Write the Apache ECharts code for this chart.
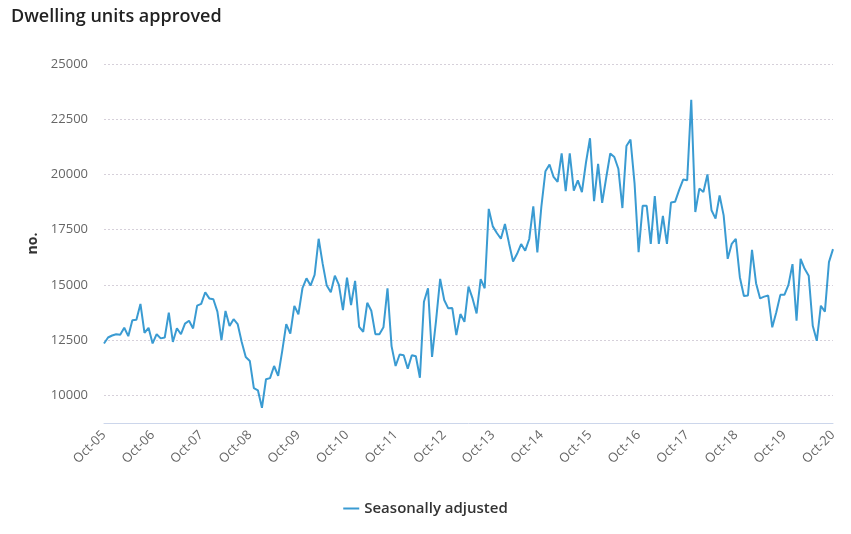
<!DOCTYPE html>
<html>
<head>
<meta charset="utf-8">
<script src="https://cdn.jsdelivr.net/npm/echarts@6/dist/echarts.min.js"></script>
<style>
html,body{margin:0;padding:0;background:#fff;}
#chart{width:851px;height:534px;}
</style>
</head>
<body>
<div id="chart"></div>
<script>
const titleText = 'Dwelling units approved';
const seriesName = 'Seasonally adjusted';
const yAxisName = 'no.';
const yTickValues = [10000, 12500, 15000, 17500, 20000, 22500, 25000];
const monthNames = ['Jan','Feb','Mar','Apr','May','Jun','Jul','Aug','Sep','Oct','Nov','Dec'];

// Monthly categories Oct-05 .. Oct-20
const categories = [];
for (let y = 2005, m = 9; y < 2020 || (y === 2020 && m <= 9); ) {
  categories.push(monthNames[m] + '-' + String(y % 100).padStart(2, '0'));
  m++; if (m > 11) { m = 0; y++; }
}

const seasonallyAdjusted = [
  12350,12620,12710,12770,12740,13060,12680,13400,13420,14140,12830,13060,
  12350,12770,12580,12620,13750,12420,13040,12770,13250,13380,13030,14060,
  14140,14670,14390,14350,13790,12500,13820,13140,13450,13230,12420,11740,
  11560,10330,10230,9440,10730,10780,11330,10880,12000,13230,12800,14050,
  13670,14850,15300,14970,15450,17090,15950,14970,14670,15420,15000,13860,
  15330,14090,15180,13100,12880,14190,13830,12770,12770,13080,14850,12230,
  11330,11850,11820,11210,11820,11770,10800,14240,14850,11740,13410,15270,
  14320,13940,13950,12730,13680,13330,14920,14390,13710,15260,14850,18440,
  17650,17350,17090,17760,16890,16060,16410,16850,16550,17080,18560,16470,
  18560,20150,20450,19890,19670,20950,19240,20950,19270,19730,19200,20530,
  21640,18790,20480,18710,19850,20950,20790,20260,18480,21290,21580,19600,
  16480,18580,18580,16860,19020,16860,18120,16860,18730,18760,19290,19770,
  19740,23380,18300,19360,19210,20000,18380,18000,19050,18150,16180,16860,
  17090,15350,14500,14520,16590,15080,14390,14470,14520,13080,13760,14550,
  14550,15000,15940,13380,16180,15730,15420,13150,12470,14060,13790,16030,
  16620
];

const chart = echarts.init(document.getElementById('chart'), null, {renderer: 'canvas'});
const fontFamily = '"Open Sans", "Noto Sans", sans-serif';
chart.setOption({
  animation: false,
  backgroundColor: '#ffffff',
  textStyle: {fontFamily: fontFamily},
  title: {
    text: titleText,
    left: 6, top: 3,
    textStyle: {fontSize: 18, fontWeight: 600, color: '#222', fontFamily: fontFamily}
  },
  legend: {
    data: [{name: seriesName, icon: 'rect'}],
    bottom: 13, left: 'center',
    itemWidth: 16, itemHeight: 2, itemGap: 8,
    textStyle: {fontSize: 15, fontWeight: 600, color: '#333', fontFamily: fontFamily}
  },
  grid: {left: 104, right: 18, top: 64, bottom: 111, containLabel: false},
  xAxis: {
    type: 'category',
    data: categories,
    boundaryGap: false,
    axisLine: {show: true, lineStyle: {color: '#ccd6eb', width: 1}},
    axisTick: {show: false},
    axisLabel: {
      interval: 11, rotate: 45, margin: 10,
      color: '#666', fontSize: 13, fontFamily: fontFamily
    },
    splitLine: {show: false}
  },
  yAxis: {
    type: 'value',
    min: 8750, max: 25000,
    name: yAxisName,
    nameLocation: 'middle',
    nameGap: 64,
    nameTextStyle: {fontSize: 14, fontWeight: 'bold', color: '#333', fontFamily: fontFamily},
    axisLine: {show: false},
    axisTick: {show: false, customValues: yTickValues},
    axisLabel: {
      customValues: yTickValues,
      formatter: function (v) { return String(v); },
      color: '#666', fontSize: 13, margin: 16, fontFamily: fontFamily
    },
    splitLine: {show: true, lineStyle: {color: '#d6d0da', type: [2, 2], width: 1}}
  },
  series: [{
    name: seriesName,
    type: 'line',
    data: seasonallyAdjusted,
    showSymbol: false,
    symbol: 'none',
    lineStyle: {color: '#3a9bd2', width: 2},
    itemStyle: {color: '#3a9bd2'}
  }]
});
</script>
</body>
</html>
